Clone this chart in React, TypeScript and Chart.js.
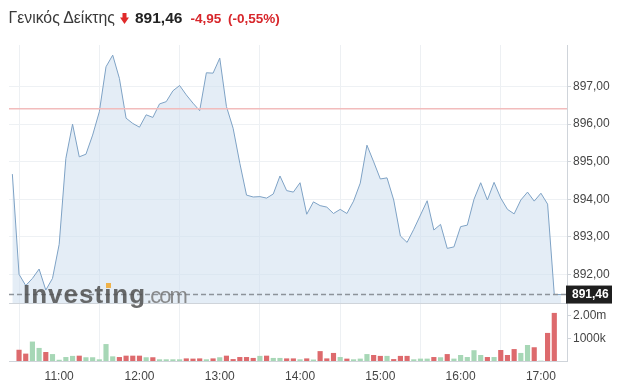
import { useEffect, useRef } from 'react';
import { Chart, registerables } from 'chart.js';

Chart.register(...registerables);

// ---- data ----
const TIMES = [
  '10:25', '10:30', '10:35', '10:40', '10:45', '10:50', '10:55',
  '11:00', '11:05', '11:10', '11:15', '11:20', '11:25', '11:30', '11:35', '11:40', '11:45', '11:50', '11:55',
  '12:00', '12:05', '12:10', '12:15', '12:20', '12:25', '12:30', '12:35', '12:40', '12:45', '12:50', '12:55',
  '13:00', '13:05', '13:10', '13:15', '13:20', '13:25', '13:30', '13:35', '13:40', '13:45', '13:50', '13:55',
  '14:00', '14:05', '14:10', '14:15', '14:20', '14:25', '14:30', '14:35', '14:40', '14:45', '14:50', '14:55',
  '15:00', '15:05', '15:10', '15:15', '15:20', '15:25', '15:30', '15:35', '15:40', '15:45', '15:50', '15:55',
  '16:00', '16:05', '16:10', '16:15', '16:20', '16:25', '16:30', '16:35', '16:40', '16:45', '16:50', '16:55',
  '17:00', '17:05', '17:10', '17:15',
];

const PRICES = [
  894.67, 892.0, 891.7, 891.89, 892.14, 891.58, 891.89,
  892.8, 895.09, 896.0, 895.13, 895.2, 895.71, 896.33, 897.53, 897.84, 897.22, 896.16, 896.02,
  895.92, 896.25, 896.18, 896.54, 896.6, 896.89, 897.03, 896.78, 896.56, 896.36, 897.37, 897.36,
  897.76, 896.47, 895.89, 894.96, 894.11, 894.06, 894.07, 894.03, 894.14, 894.62, 894.23, 894.19,
  894.44, 893.6, 893.93, 893.83, 893.79, 893.62, 893.73, 893.62, 893.95, 894.43, 895.44, 895.0,
  894.54, 894.57, 893.98, 893.02, 892.85, 893.2, 893.58, 893.96, 893.18, 893.33, 892.69, 892.73,
  893.27, 893.31, 894.0, 894.44, 893.98, 894.45, 894.03, 893.73, 893.61, 893.98, 894.19, 893.95,
  894.16, 893.87, 891.46, 891.46,
];

const VOL_TIMES = [
  '10:30', '10:35', '10:40', '10:45', '10:50', '10:55',
  '11:00', '11:05', '11:10', '11:15', '11:20', '11:25', '11:30', '11:35', '11:40', '11:45', '11:50', '11:55',
  '12:00', '12:05', '12:10', '12:15', '12:20', '12:25', '12:30', '12:35', '12:40', '12:45', '12:50', '12:55',
  '13:00', '13:05', '13:10', '13:15', '13:20', '13:25', '13:30', '13:35', '13:40', '13:45', '13:50', '13:55',
  '14:00', '14:05', '14:10', '14:15', '14:20', '14:25', '14:30', '14:35', '14:40', '14:45', '14:50', '14:55',
  '15:00', '15:05', '15:10', '15:15', '15:20', '15:25', '15:30', '15:35', '15:40', '15:45', '15:50', '15:55',
  '16:00', '16:05', '16:10', '16:15', '16:20', '16:25', '16:30', '16:35', '16:40', '16:45', '16:50', '16:55',
  '17:00', '17:05', '17:10',
];

// volume in millions
const VOLUMES_M = [
  0.48, 0.31, 0.84, 0.56, 0.38, 0.29,
  0.04, 0.16, 0.21, 0.22, 0.15, 0.15, 0.06, 0.73, 0.19, 0.16, 0.22, 0.22,
  0.22, 0.15, 0.15, 0.06, 0.06, 0.06, 0.06, 0.1, 0.09, 0.1, 0.06, 0.1,
  0.15, 0.22, 0.07, 0.16, 0.16, 0.12, 0.21, 0.22, 0.12, 0.12, 0.1, 0.1,
  0.06, 0.1, 0.05, 0.42, 0.1, 0.34, 0.16, 0.09, 0.06, 0.09, 0.29, 0.25,
  0.21, 0.21, 0.07, 0.21, 0.21, 0.06, 0.09, 0.09, 0.16, 0.15, 0.29, 0.09,
  0.25, 0.16, 0.46, 0.25, 0.16, 0.16, 0.47, 0.25, 0.51, 0.34, 0.69, 0.59,
  0, 1.22, 2.1,
];

// u = up (green), d = down (red)
const VOL_DIR = [
  'd', 'd', 'u', 'u', 'd', 'u',
  'u', 'u', 'u', 'd', 'u', 'u', 'u', 'u', 'u', 'd', 'd', 'd',
  'd', 'u', 'd', 'u', 'u', 'u', 'u', 'd', 'd', 'd', 'u', 'd',
  'u', 'd', 'd', 'd', 'd', 'd', 'u', 'd', 'u', 'u', 'd', 'd',
  'u', 'd', 'u', 'd', 'd', 'd', 'u', 'd', 'u', 'u', 'u', 'd',
  'd', 'u', 'd', 'd', 'd', 'u', 'u', 'u', 'd', 'u', 'd', 'u',
  'u', 'u', 'u', 'u', 'd', 'u', 'd', 'd', 'd', 'u', 'u', 'd',
  'u', 'd', 'd',
];

const HOUR_LABELS = ['11:00', '12:00', '13:00', '14:00', '15:00', '16:00', '17:00'];
const PRICE_TICKS = [892, 893, 894, 895, 896, 897];
const VOL_TICKS = [1000000, 2000000];
const VOL_TICK_LABELS = ['1000k', '2.00m'];

const PREV_CLOSE = 896.41;
const LAST_PRICE = 891.46;
const TITLE = 'Γενικός Δείκτης';
const CHANGE_TEXT = '-4,95';
const CHANGE_PCT_TEXT = '(-0,55%)';

const toMin = (s: string) => {
  const [h, m] = s.split(':').map(Number);
  return h * 60 + m;
};
const fmtPrice = (v: number) => v.toFixed(2).replace('.', ',');

const FONT = "'Liberation Sans', Arial, sans-serif";
const RED = '#dd6a6d';
const GREEN = '#a7d7b6';

const overlayPlugin = {
  id: 'overlayLines',
  afterDatasetsDraw(chart: any) {
    const { ctx, chartArea } = chart;
    const y = chart.scales.y;
    ctx.save();
    // separator between panels
    ctx.strokeStyle = '#cfd4da';
    ctx.lineWidth = 1;
    ctx.beginPath();
    ctx.moveTo(chartArea.left, Math.round(y.bottom) + 0.5);
    ctx.lineTo(chartArea.right, Math.round(y.bottom) + 0.5);
    ctx.stroke();
    // previous close line
    const py = y.getPixelForValue(PREV_CLOSE);
    ctx.strokeStyle = '#f2bcbc';
    ctx.lineWidth = 1.5;
    ctx.beginPath();
    ctx.moveTo(chartArea.left, py);
    ctx.lineTo(chartArea.right, py);
    ctx.stroke();
    // last price dashed line
    const ly = y.getPixelForValue(LAST_PRICE);
    ctx.strokeStyle = '#8d939a';
    ctx.lineWidth = 1.5;
    ctx.setLineDash([5, 3]);
    ctx.beginPath();
    ctx.moveTo(chartArea.left, ly);
    ctx.lineTo(chartArea.right, ly);
    ctx.stroke();
    ctx.setLineDash([]);
    // last price label box
    const bx = chartArea.right - 1;
    ctx.fillStyle = '#1f1f1f';
    ctx.fillRect(bx, ly - 9, 46, 18);
    ctx.fillStyle = '#ffffff';
    ctx.font = `bold 12px ${FONT}`;
    ctx.textBaseline = 'middle';
    ctx.textAlign = 'left';
    ctx.fillText(fmtPrice(LAST_PRICE), bx + 6, ly + 0.5);
    ctx.restore();
  },
};

export default function App() {
  const ref = useRef<HTMLCanvasElement | null>(null);

  useEffect(() => {
    if (!ref.current) return;
    const lineData = TIMES.map((t, i) => ({ x: toMin(t), y: PRICES[i] }));
    const volData = VOL_TIMES.map((t, i) => ({ x: toMin(t), y: VOLUMES_M[i] * 1000000 }));
    const volColors = VOL_DIR.map((d) => (d === 'u' ? GREEN : RED));

    const chart = new Chart(ref.current, {
      type: 'line',
      data: {
        datasets: [
          {
            type: 'line',
            data: lineData,
            yAxisID: 'y',
            borderColor: '#7ea2c5',
            borderWidth: 1,
            backgroundColor: 'rgba(205,222,238,0.55)',
            fill: 'start',
            pointRadius: 0,
            tension: 0,
          },
          {
            type: 'bar',
            data: volData,
            yAxisID: 'yv',
            backgroundColor: volColors,
            barThickness: 4.5,
          } as any,
        ],
      },
      options: {
        animation: false,
        responsive: false,
        devicePixelRatio: 1,
        layout: { padding: { top: 45, left: 9, right: 0, bottom: 0 } },
        plugins: { legend: { display: false }, tooltip: { enabled: false } },
        events: [],
        scales: {
          x: {
            type: 'linear',
            min: 622.5,
            max: 1039.5,
            offset: false,
            afterBuildTicks: (s: any) => {
              s.ticks = HOUR_LABELS.map((l) => ({ value: toMin(l) }));
            },
            afterFit: (s: any) => {
              s.height = 30;
            },
            ticks: {
              autoSkip: false,
              maxRotation: 0,
              padding: 8,
              color: '#454545',
              font: { family: FONT, size: 12 },
              callback: (v: any) => {
                const h = Math.floor(v / 60);
                const m = v % 60;
                return `${h}:${String(m).padStart(2, '0')}`;
              },
            },
            grid: { color: '#edf0f3', drawTicks: false },
            border: { display: true, color: '#cfd4da' },
          },
          y: {
            type: 'linear',
            position: 'right',
            stack: 'panels',
            stackWeight: 258,
            min: 891.235,
            max: 898.11,
            afterBuildTicks: (s: any) => {
              s.ticks = PRICE_TICKS.map((v) => ({ value: v }));
            },
            afterFit: (s: any) => {
              s.width = 75;
            },
            ticks: {
              padding: 2,
              color: '#454545',
              font: { family: FONT, size: 12 },
              callback: (v: any) => fmtPrice(Number(v)),
            },
            grid: { color: '#eef1f4', tickLength: 4, tickColor: '#cfd4da' },
            border: { display: true, color: '#cfd4da' },
          },
          yv: {
            type: 'linear',
            position: 'right',
            stack: 'panels',
            stackWeight: 58,
            min: 0,
            max: 2550000,
            afterBuildTicks: (s: any) => {
              s.ticks = VOL_TICKS.map((v) => ({ value: v }));
            },
            afterFit: (s: any) => {
              s.width = 75;
            },
            ticks: {
              padding: 2,
              color: '#454545',
              font: { family: FONT, size: 12 },
              callback: (v: any) => {
                const i = VOL_TICKS.indexOf(Number(v));
                return i >= 0 ? VOL_TICK_LABELS[i] : '';
              },
            },
            grid: { drawOnChartArea: false, tickLength: 4, tickColor: '#cfd4da' },
            border: { display: true, color: '#cfd4da' },
          },
        },
      } as any,
      plugins: [overlayPlugin],
    });
    return () => chart.destroy();
  }, []);

  return (
    <div style={{ position: 'fixed', left: 0, top: 0, width: 642, height: 391, background: '#fff', fontFamily: FONT }}>
      <canvas ref={ref} width={642} height={391} style={{ position: 'absolute', left: 0, top: 0 }} />
      <span style={{ position: 'absolute', left: 8.5, top: 10.2, fontSize: 15.8, lineHeight: '15.8px', color: '#3a3a3a', whiteSpace: 'nowrap' }}>
        {TITLE}
      </span>
      <svg style={{ position: 'absolute', left: 119.5, top: 13 }} width={9} height={11} viewBox="0 0 9 11">
        <rect x={2.5} y={0} width={4} height={5} fill="#e02a2a" />
        <polygon points="0,4.5 9,4.5 4.5,11" fill="#e02a2a" />
      </svg>
      <span style={{ position: 'absolute', left: 135, top: 10.4, fontSize: 15.5, lineHeight: '15.5px', fontWeight: 'bold', color: '#222', whiteSpace: 'nowrap' }}>
        {fmtPrice(LAST_PRICE)}
      </span>
      <span style={{ position: 'absolute', left: 190.5, top: 12, fontSize: 13.5, lineHeight: '13.5px', fontWeight: 'bold', color: '#d7262b', whiteSpace: 'nowrap' }}>
        {CHANGE_TEXT}
      </span>
      <span style={{ position: 'absolute', left: 228, top: 12, fontSize: 13.5, lineHeight: '13.5px', fontWeight: 'bold', color: '#d7262b', whiteSpace: 'nowrap' }}>
        {CHANGE_PCT_TEXT}
      </span>
      <div style={{ position: 'absolute', left: 23, top: 280.7, lineHeight: '26px', height: 26, whiteSpace: 'nowrap' }}>
        <span style={{ fontSize: 26, fontWeight: 'bold', color: 'rgba(80,80,80,0.85)', letterSpacing: 1 }}>Investing</span>
        <span style={{ fontSize: 22, color: 'rgba(120,120,120,0.85)', letterSpacing: -2 }}>.com</span>
      </div>
      <div style={{ position: 'absolute', left: 105.5, top: 282.5, width: 5, height: 5, background: '#efb24a' }} />
    </div>
  );
}
